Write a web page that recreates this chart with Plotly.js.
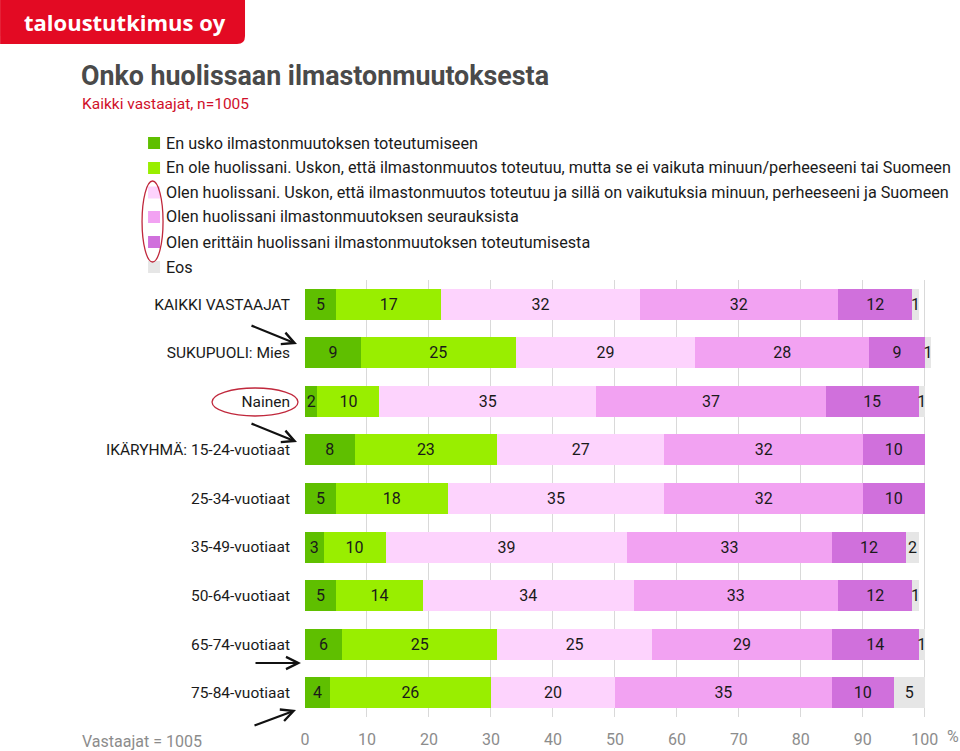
<!DOCTYPE html>
<html>
<head>
<meta charset="utf-8">
<script src="https://cdn.plot.ly/plotly-3.0.1.min.js"></script>
<style>
  html, body { margin: 0; padding: 0; background: #ffffff; }
  #chart { width: 960px; height: 751px; }
</style>
</head>
<body>
<div id="chart"></div>
<script>
// ---------- DATA ----------
const categories = [
  'KAIKKI VASTAAJAT',
  'SUKUPUOLI: Mies',
  'Nainen',
  'IKÄRYHMÄ: 15-24-vuotiaat',
  '25-34-vuotiaat',
  '35-49-vuotiaat',
  '50-64-vuotiaat',
  '65-74-vuotiaat',
  '75-84-vuotiaat'
];
const seriesNames = [
  'En usko ilmastonmuutoksen toteutumiseen',
  'En ole huolissani. Uskon, että ilmastonmuutos toteutuu, mutta se ei vaikuta minuun/perheeseeni tai Suomeen',
  'Olen huolissani. Uskon, että ilmastonmuutos toteutuu ja sillä on vaikutuksia minuun, perheeseeni ja Suomeen',
  'Olen huolissani ilmastonmuutoksen seurauksista',
  'Olen erittäin huolissani ilmastonmuutoksen toteutumisesta',
  'Eos'
];
const enUsko      = [5, 9, 2, 8, 5, 3, 5, 6, 4];
const enOle       = [17, 25, 10, 23, 18, 10, 14, 25, 26];
const olenUskon   = [32, 29, 35, 27, 35, 39, 34, 25, 20];
const seurauksista= [32, 28, 37, 32, 32, 33, 33, 29, 35];
const erittain    = [12, 9, 15, 10, 10, 12, 12, 14, 10];
const eos         = [1, 1, 1, 0, 0, 2, 1, 1, 5];
const xTicks = [0, 10, 20, 30, 40, 50, 60, 70, 80, 90, 100];

const seriesValues = [enUsko, enOle, olenUskon, seurauksista, erittain, eos];
const colors = ['#5fbf00', '#99ee00', '#fdd3fd', '#f2a2f2', '#d070dc', '#e6e6e6'];

// ---------- GEOMETRY HELPERS (plot area in pixels) ----------
// x range 0..101 so that 100 lands at pixel 925 and rounding overflow (101) stays visible
const XMAX = 101;
const L = 305, R = 305 + 620 * XMAX / 100, T = 280, B = 717;
const W = R - L, H = B - T;
const px = x => (x - L) / W;
const py = y => (B - y) / H;

const FONT = 'Roboto, "Noto Sans", sans-serif';

const traces = seriesValues.map((vals, i) => ({
  type: 'bar',
  orientation: 'h',
  name: seriesNames[i],
  y: categories,
  x: vals,
  marker: { color: colors[i], line: { width: 0 } },
  text: vals.map(v => v === 0 ? '' : String(v)),
  textposition: 'inside',
  insidetextanchor: 'middle',
  constraintext: 'none',
  cliponaxis: false,
  textangle: 0,
  insidetextfont: { family: FONT, size: 16, color: '#1a1a1a' },
  hoverinfo: 'name+x',
  showlegend: false
}));

// ---------- ANNOTATIONS ----------
const annotations = [];
annotations.push({
  xref: 'paper', yref: 'paper', x: px(22), y: py(22),
  xanchor: 'left', yanchor: 'middle', showarrow: false,
  text: '<b>taloustutkimus oy</b>',
  font: { family: '"Open Sans", sans-serif', size: 22, color: '#ffffff' }
});
annotations.push({
  xref: 'paper', yref: 'paper', x: px(79), y: py(76),
  xanchor: 'left', yanchor: 'middle', showarrow: false,
  text: '<b>Onko huolissaan ilmastonmuutoksesta</b>',
  font: { family: FONT, size: 26.8, color: '#4a4a4a' }
});
annotations.push({
  xref: 'paper', yref: 'paper', x: px(80), y: py(104),
  xanchor: 'left', yanchor: 'middle', showarrow: false,
  text: 'Kaikki vastaajat, n=1005',
  font: { family: FONT, size: 15.5, color: '#d0102a' }
});
const legendY = [143, 168, 192.5, 217, 242, 267];
seriesNames.forEach((n, i) => {
  annotations.push({
    xref: 'paper', yref: 'paper', x: px(164), y: py(legendY[i]),
    xanchor: 'left', yanchor: 'middle', showarrow: false,
    text: n,
    font: { family: FONT, size: 16.2, color: '#1a1a1a' }
  });
});
annotations.push({
  xref: 'paper', yref: 'paper', x: px(80), y: py(741),
  xanchor: 'left', yanchor: 'middle', showarrow: false,
  text: 'Vastaajat = 1005',
  font: { family: FONT, size: 16, color: '#8c8c8c' }
});
annotations.push({
  xref: 'paper', yref: 'paper', x: px(945), y: py(736),
  xanchor: 'left', yanchor: 'middle', showarrow: false,
  text: '%',
  font: { family: FONT, size: 16, color: '#8c8c8c' }
});
const arrows = [
  [250, 325, 297, 344],
  [250, 423, 297, 442],
  [254, 663, 301, 663],
  [253, 726, 296, 710]
];
arrows.forEach(a => {
  annotations.push({
    xref: 'paper', yref: 'paper', x: px(a[2]), y: py(a[3]),
    ax: a[0] - a[2], ay: a[1] - a[3],
    showarrow: true, text: '', arrowhead: 5, arrowsize: 1.1,
    arrowwidth: 2.2, arrowcolor: '#111111', standoff: 0
  });
});

// ---------- SHAPES ----------
const shapes = [];
const hx = 245, hy = 44, r = 8;
shapes.push({
  type: 'path', xref: 'paper', yref: 'paper',
  path: `M ${px(0)},${py(0)} L ${px(hx)},${py(0)} L ${px(hx)},${py(hy - r)} ` +
        `Q ${px(hx)},${py(hy)} ${px(hx - r)},${py(hy)} L ${px(0)},${py(hy)} Z`,
  fillcolor: '#e30a23', line: { width: 0 }, layer: 'above'
});
colors.forEach((c, i) => {
  shapes.push({
    type: 'rect', xref: 'paper', yref: 'paper',
    x0: px(148), x1: px(160), y0: py(legendY[i] - 6), y1: py(legendY[i] + 6),
    fillcolor: c, line: { width: 0 }
  });
});
shapes.push({
  type: 'circle', xref: 'paper', yref: 'paper',
  x0: px(142), x1: px(163), y0: py(181), y1: py(262),
  line: { color: '#c0283c', width: 1.3 }, fillcolor: 'rgba(0,0,0,0)'
});
shapes.push({
  type: 'circle', xref: 'paper', yref: 'paper',
  x0: px(212), x1: px(298), y0: py(388), y1: py(416),
  line: { color: '#c0283c', width: 1.3 }, fillcolor: 'rgba(0,0,0,0)'
});

const layout = {
  width: 960, height: 751,
  margin: { l: L, r: 960 - R, t: T, b: 751 - B, pad: 0 },
  paper_bgcolor: '#ffffff', plot_bgcolor: '#ffffff',
  barmode: 'stack', bargap: 0.36,
  showlegend: false,
  font: { family: FONT },
  xaxis: {
    range: [0, XMAX], tickvals: xTicks, ticktext: xTicks.map(String),
    showgrid: true, gridcolor: '#d9d9d9', gridwidth: 1,
    zeroline: false, showline: false, ticks: '',
    tickfont: { family: FONT, size: 16, color: '#8c8c8c' },
    ticklabelstandoff: 11, fixedrange: true
  },
  yaxis: {
    type: 'category', autorange: 'reversed',
    showgrid: false, zeroline: false, showline: false, ticks: '',
    tickfont: { family: FONT, size: 15.5, color: '#1a1a1a' },
    ticklabelstandoff: 14, fixedrange: true
  },
  annotations: annotations,
  shapes: shapes
};

Plotly.newPlot('chart', traces, layout, { displayModeBar: false, staticPlot: true });
</script>
</body>
</html>
